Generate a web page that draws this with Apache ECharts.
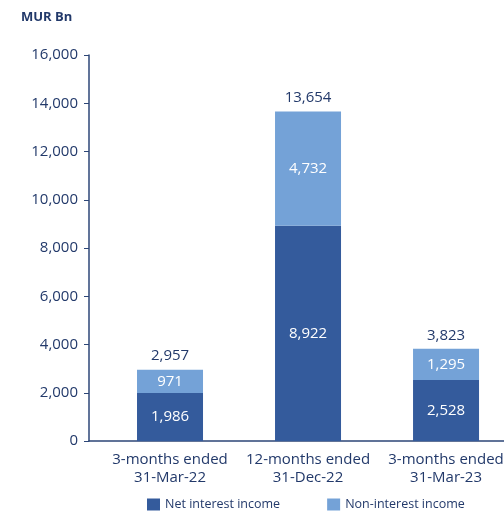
<!DOCTYPE html>
<html>
<head>
<meta charset="utf-8">
<script src="https://cdn.jsdelivr.net/npm/echarts@6/dist/echarts.min.js"></script>
<style>
  html, body { margin: 0; padding: 0; background: #fff; }
  #chart { width: 504px; height: 519px; }
</style>
</head>
<body>
<div id="chart"></div>
<script>
const categories = ['3-months ended\n31-Mar-22', '12-months ended\n31-Dec-22', '3-months ended\n31-Mar-23'];
const netInterest = [1986, 8922, 2528];
const nonInterest = [971, 4732, 1295];
const totals = [2957, 13654, 3823];
const yTicks = [0, 2000, 4000, 6000, 8000, 10000, 12000, 14000, 16000];

const navy = '#22396a';
const dark = '#345b9c';
const light = '#74a2d7';
const font = 'Open Sans';

// bars sit on positions 1,2,3 of a value x axis so the y axis can start left of the first slot
const pos = categories.map((c, i) => i + 1);
// value first, position second: makes the stack run along y
const pairs = arr => arr.map((v, i) => [v, pos[i]]);
const fmt = p => p.value[0].toLocaleString('en-US');

const chart = echarts.init(document.getElementById('chart'));
const option = {
  animation: false,
  textStyle: { fontFamily: font },
  title: {
    text: 'MUR Bn',
    left: 16, top: 6,
    textStyle: { fontFamily: font, fontSize: 13, fontWeight: 'bold', color: navy }
  },
  // last label runs off the right edge in the original, so don't shrink the grid for it
  grid: { left: 89, right: 0, top: 55, bottom: 78, outerBoundsMode: 'none' },
  legend: {
    bottom: 3,
    left: 142,
    itemWidth: 13, itemHeight: 12,
    itemGap: 47,
    icon: 'rect',
    textStyle: { fontFamily: font, fontSize: 12.5, color: navy },
    data: ['Net interest income', 'Non-interest income']
  },
  xAxis: {
    type: 'value',
    min: 0.413, max: 3.42,
    splitLine: { show: false },
    axisLine: { show: true, lineStyle: { color: '#2d4677', width: 1.5 } },
    axisTick: { show: false },
    axisLabel: {
      customValues: pos,
      formatter: v => categories[Math.round(v) - 1],
      color: navy, fontSize: 15, lineHeight: 18, margin: 10,
      fontFamily: font
    }
  },
  yAxis: {
    type: 'value',
    min: yTicks[0], max: yTicks[yTicks.length - 1], interval: 2000,
    splitLine: { show: false },
    axisLine: { show: true, lineStyle: { color: '#2d4677', width: 1.5 } },
    axisTick: { show: true, length: 5, lineStyle: { color: '#2d4677' } },
    axisLabel: {
      color: navy, fontSize: 15, margin: 11, fontFamily: font,
      formatter: v => v.toLocaleString('en-US')
    }
  },
  series: [
    {
      name: 'Net interest income', type: 'bar', stack: 'inc',
      encode: { x: 1, y: 0 },
      barWidth: 66, itemStyle: { color: dark },
      label: { show: true, position: 'inside', color: '#fff', fontSize: 15, fontFamily: font, formatter: fmt },
      data: pairs(netInterest)
    },
    {
      name: 'Non-interest income', type: 'bar', stack: 'inc',
      encode: { x: 1, y: 0 },
      barWidth: 66, itemStyle: { color: light },
      label: { show: true, position: 'inside', color: '#fff', fontSize: 15, fontFamily: font, formatter: fmt },
      data: pairs(nonInterest)
    },
    {
      name: 'Total', type: 'bar', barGap: '-100%',
      encode: { x: 1, y: 0 },
      barWidth: 66, itemStyle: { color: 'rgba(0,0,0,0)' },
      label: { show: true, position: 'top', distance: 6, color: navy, fontSize: 15, fontFamily: font, formatter: fmt },
      silent: true, z: 1,
      data: pairs(totals)
    }
  ]
};
chart.setOption(option);
</script>
</body>
</html>
